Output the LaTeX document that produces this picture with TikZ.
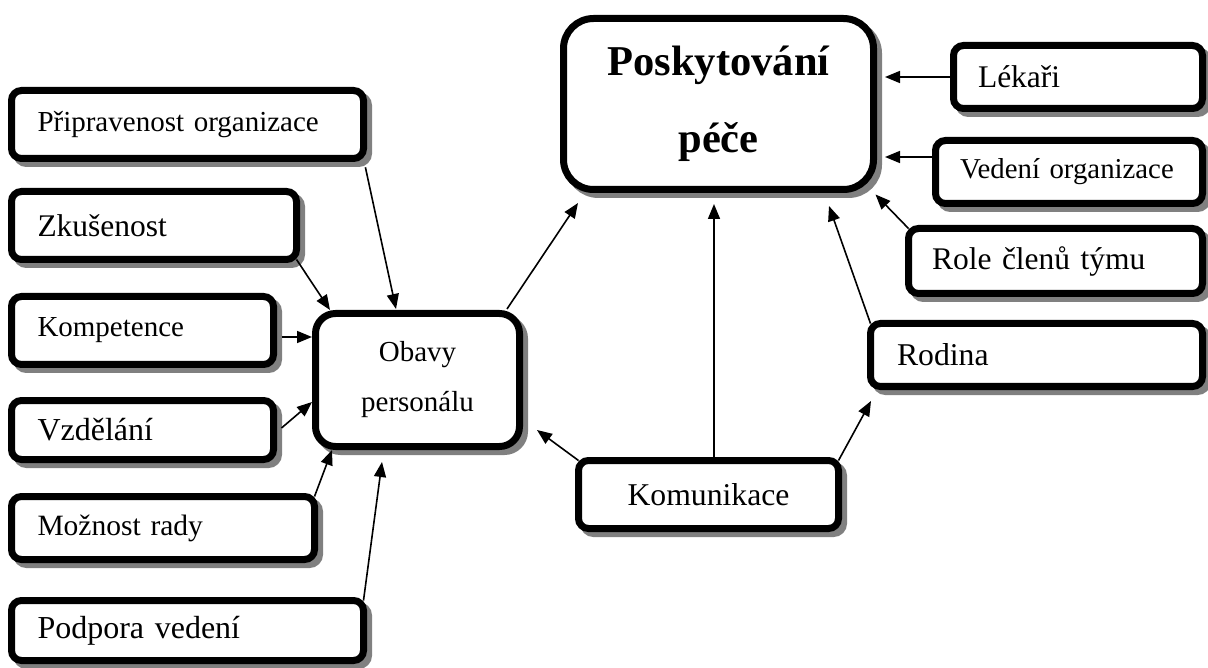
\documentclass[tikz,border=0pt]{standalone}
\usepackage{fontspec}
\setmainfont{Liberation Serif}
\usetikzlibrary{arrows.meta}
\definecolor{shadowgray}{RGB}{128,128,128}
\newcommand{\fsz}[1]{\fontsize{#1pt}{#1pt}\selectfont}
\begin{document}
\begin{tikzpicture}[x=1pt,y=-1pt,
  box/.style={draw=black, line width=7pt, rounded corners=10pt, fill=white,
    inner ysep=0pt, outer sep=0pt,
    preaction={draw=shadowgray, fill=shadowgray, line width=7pt,
      transform canvas={shift={(5pt,-5pt)}}}},
  lbox/.style={box, align=left},
  conn/.style={line width=1.6pt, -{Triangle[length=15pt,width=12pt]}}]
\useasboundingbox (0,0) rectangle (1208,668);

% left column
\node[lbox, minimum width=352pt, minimum height=68pt, text width=300pt, inner xsep=26pt, font=\fsz{29}]
  (prip) at (187.5,124.5) {Připravenost organizace};
\node[lbox, minimum width=285pt, minimum height=68pt, text width=233pt, inner xsep=26pt, font=\fsz{31.5}]
  (zkus) at (154,225.5) {Zkušenost};
\node[lbox, minimum width=262pt, minimum height=68pt, text width=210pt, inner xsep=26pt, font=\fsz{29}]
  (komp) at (142.5,330.5) {Kompetence};
\node[lbox, minimum width=262pt, minimum height=59pt, text width=210pt, inner xsep=26pt, font=\fsz{32}]
  (vzdel) at (142.5,430) {Vzdělání};
\node[lbox, minimum width=303pt, minimum height=63pt, text width=251pt, inner xsep=26pt, font=\fsz{29.5}]
  (mozn) at (163,528) {Možnost rady};
\node[lbox, minimum width=352pt, minimum height=60pt, text width=300pt, inner xsep=26pt, font=\fsz{32}]
  (podp) at (187.5,630.5) {Podpora vedení};

% centre
\node[box, rounded corners=20pt, minimum width=204pt, minimum height=133pt, align=center,
  font=\fontsize{29pt}{50pt}\selectfont]
  (obavy) at (417.5,380) {Obavy\\personálu};
\node[box, rounded corners=30pt, minimum width=310pt, minimum height=171pt, align=center,
  font=\fontsize{42.5pt}{77pt}\selectfont\bfseries]
  (posk) at (718.5,104) {Poskytování\\péče};
\node[box, minimum width=260pt, minimum height=68pt, align=center, font=\fsz{31.7}]
  (komun) at (708.5,494.5) {Komunikace};

% right column
\node[lbox, minimum width=249pt, minimum height=63pt, text width=200pt, inner xsep=24.5pt, font=\fsz{31.5}]
  (lek) at (1078,77) {Lékaři};
\node[lbox, minimum width=267pt, minimum height=63pt, text width=218pt, inner xsep=24.5pt, font=\fsz{28.8}]
  (vedeni) at (1069,172) {Vedení organizace};
\node[lbox, minimum width=294pt, minimum height=65pt, text width=247pt, inner xsep=23.5pt, font=\fsz{31.5}]
  (role) at (1055.5,261) {Role členů týmu};
\node[lbox, minimum width=332pt, minimum height=63pt, text width=279pt, inner xsep=26.5pt, font=\fsz{31.7}]
  (rodina) at (1036.5,355) {Rodina};

% connectors
\draw[conn, shorten <=9pt] (prip.south east) -- ([xshift=-21.5pt,yshift=4.5pt]obavy.north);
\draw[conn] (zkus.south east) -- ([xshift=14.5pt,yshift=3.5pt]obavy.north west);
\draw[conn] ([xshift=8pt,yshift=-6.5pt]komp.east) -- ([xshift=-3.5pt,yshift=43pt]obavy.west);
\draw[conn] ([xshift=8pt,yshift=2pt]vzdel.east) -- ([xshift=-3.5pt,yshift=-22pt]obavy.west);
\draw[conn] (mozn.north east) -- ([xshift=16.5pt,yshift=-3.5pt]obavy.south west);
\draw[conn] (podp.north east) -- ([xshift=-35.5pt,yshift=-15.5pt]obavy.south);
\draw[conn] ([xshift=-12.5pt,yshift=4.5pt]obavy.north east) -- ([xshift=14.5pt,yshift=-13.5pt]posk.south west);
\draw[conn] (komun.north west) -- ([xshift=17.5pt,yshift=16.5pt]obavy.south east);
\draw[conn] ([xshift=5.5pt]komun.north) -- ([xshift=-4.5pt,yshift=-14.5pt]posk.south);
\draw[conn] (komun.north east) -- ([xshift=0.5pt,yshift=-14.5pt]rodina.south west);
\draw[conn] (rodina.north west) -- ([xshift=-44.5pt,yshift=-16.5pt]posk.south east);
\draw[conn] (role.north west) -- ([xshift=2pt,yshift=-5pt]posk.south east);
\draw[conn] (lek.west) -- ([xshift=11.5pt,yshift=27pt]posk.east);
\draw[conn] ([yshift=15pt]vedeni.west) -- ([xshift=11.5pt,yshift=-53pt]posk.east);
\end{tikzpicture}
\end{document}
